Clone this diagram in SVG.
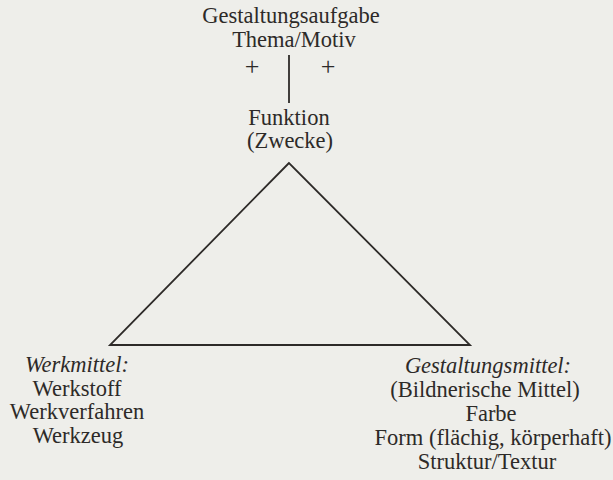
<svg xmlns="http://www.w3.org/2000/svg" width="613" height="480" viewBox="0 0 613 480">
  <style>
    text { font-family: "Liberation Serif", "Times New Roman", serif; font-size: 22.5px; fill: #2d2a28; text-anchor: middle; }
    .it { font-style: italic; }
    .plus { font-size: 26px; }
    .ln { stroke: #2d2a28; stroke-width: 1.8; fill: none; stroke-linejoin: miter; }
  </style>
  <rect width="613" height="480" fill="#eeeeea"/>
  <g id="aufgabe">
    <text x="291" y="23">Gestaltungsaufgabe</text>
    <text x="294" y="47">Thema/Motiv</text>
    <text class="plus" x="252" y="75">+</text>
    <text class="plus" x="328" y="75">+</text>
  </g>
  <g id="funktion">
    <text x="289" y="125">Funktion</text>
    <text x="290" y="148">(Zwecke)</text>
  </g>
  <g id="connectors">
    <line class="ln" x1="289" y1="55" x2="289" y2="103"/>
    <polygon class="ln" points="289,163 110,345 470,345"/>
  </g>
  <g id="werkmittel">
    <text class="it" x="77" y="372">Werkmittel:</text>
    <text x="77" y="396">Werkstoff</text>
    <text x="77" y="419">Werkverfahren</text>
    <text x="78" y="443">Werkzeug</text>
  </g>
  <g id="gestaltungsmittel">
    <text class="it" x="488" y="373">Gestaltungsmittel:</text>
    <text x="485" y="397">(Bildnerische Mittel)</text>
    <text x="491" y="421">Farbe</text>
    <text x="493" y="445">Form (flächig, körperhaft)</text>
    <text x="487" y="469">Struktur/Textur</text>
  </g>
</svg>
